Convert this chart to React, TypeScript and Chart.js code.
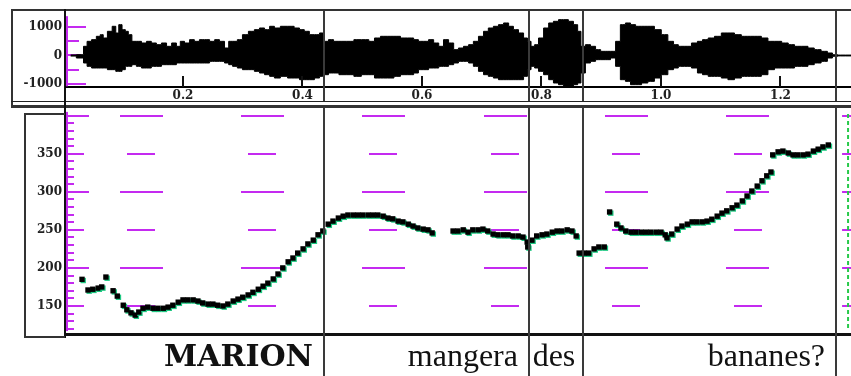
import React, { useEffect, useRef } from 'react';
import { Chart, registerables } from 'chart.js';
Chart.register(...registerables);

// ---------- data ----------
const TIME_TICKS = [0.2, 0.4, 0.6, 0.8, 1.0, 1.2];
const WAVE_Y_TICKS = [-1000, 0, 1000];
const PITCH_Y_TICKS = [150, 200, 250, 300, 350];
const WORD_BOUNDARIES = [0.436, 0.779, 0.87, 1.293];
const WORDS = ['MARION', 'mangera', 'des', 'bananes?'];
const GRID_HZ = [400, 350, 300, 250, 200, 150];
const GRID_DASH_T = [0.1305, 0.333, 0.5355, 0.739, 0.942, 1.145];

const WAVE_T = [0.012, 0.031, 0.036, 0.043, 0.051, 0.059, 0.064, 0.069, 0.078, 0.085, 0.09, 0.095, 0.101, 0.106, 0.111, 0.118, 0.126, 0.135, 0.143, 0.151, 0.16, 0.168, 0.177, 0.185, 0.193, 0.198, 0.207, 0.215, 0.223, 0.232, 0.24, 0.249, 0.257, 0.265, 0.274, 0.279, 0.287, 0.295, 0.304, 0.315, 0.324, 0.332, 0.341, 0.349, 0.357, 0.369, 0.381, 0.391, 0.399, 0.407, 0.416, 0.424, 0.433, 0.439, 0.448, 0.456, 0.466, 0.481, 0.491, 0.506, 0.516, 0.525, 0.536, 0.548, 0.558, 0.57, 0.582, 0.59, 0.598, 0.607, 0.615, 0.624, 0.632, 0.64, 0.649, 0.657, 0.665, 0.674, 0.682, 0.69, 0.699, 0.707, 0.715, 0.724, 0.732, 0.741, 0.749, 0.757, 0.766, 0.774, 0.779, 0.786, 0.791, 0.799, 0.808, 0.816, 0.824, 0.833, 0.841, 0.849, 0.858, 0.863, 0.869, 0.878, 0.886, 0.895, 0.903, 0.911, 0.92, 0.928, 0.936, 0.945, 0.953, 0.962, 0.973, 0.983, 0.995, 1.006, 1.017, 1.025, 1.033, 1.045, 1.057, 1.065, 1.074, 1.084, 1.095, 1.107, 1.117, 1.129, 1.14, 1.15, 1.162, 1.174, 1.184, 1.196, 1.208, 1.218, 1.229, 1.241, 1.251, 1.262, 1.274, 1.283, 1.291, 1.3, 1.318];
const WAVE_MAX = [20, 29, 322, 497, 556, 673, 731, 614, 848, 1024, 790, 1082, 907, 848, 731, 497, 497, 439, 497, 439, 380, 439, 322, 439, 322, 497, 439, 556, 497, 556, 556, 497, 556, 497, 263, 497, 497, 556, 731, 848, 907, 965, 907, 1024, 965, 1024, 1024, 965, 907, 848, 731, 731, 790, 497, 556, 497, 497, 497, 556, 556, 497, 614, 673, 673, 673, 614, 614, 556, 497, 497, 556, 439, 322, 556, 439, 205, 263, 322, 380, 497, 673, 848, 965, 1024, 1082, 1141, 1024, 907, 790, 614, 497, 322, 380, 614, 965, 1141, 1199, 1258, 1258, 1199, 1082, 848, 322, 380, 322, 205, 146, 146, 146, 497, 1082, 1141, 1082, 1024, 1024, 1024, 907, 731, 497, 380, 322, 322, 439, 497, 556, 614, 673, 790, 790, 731, 673, 673, 673, 614, 497, 497, 439, 380, 322, 322, 263, 205, 146, 88, 29, 15, 15];
const WAVE_MIN = [-20, -88, -263, -380, -439, -439, -439, -439, -497, -497, -556, -556, -497, -380, -380, -322, -380, -439, -439, -380, -380, -322, -322, -322, -263, -263, -263, -263, -263, -263, -263, -205, -205, -205, -263, -322, -380, -439, -497, -497, -556, -614, -673, -731, -790, -731, -790, -790, -848, -848, -848, -790, -731, -673, -614, -614, -673, -673, -731, -673, -673, -790, -790, -790, -731, -673, -673, -614, -497, -497, -439, -439, -380, -380, -322, -263, -205, -205, -263, -380, -556, -673, -731, -790, -848, -848, -848, -848, -848, -731, -497, -380, -439, -556, -673, -848, -965, -1024, -1082, -1082, -1024, -965, -614, -263, -205, -146, -146, -146, -88, -380, -848, -907, -1024, -1024, -965, -907, -790, -673, -497, -439, -380, -380, -439, -614, -673, -731, -731, -790, -848, -790, -731, -731, -731, -673, -497, -439, -439, -439, -380, -380, -322, -263, -205, -88, -29, -15, -15];

const PITCH_T = [0.031, 0.041, 0.049, 0.058, 0.064, 0.071, 0.083, 0.09, 0.1, 0.106, 0.113, 0.12, 0.126, 0.133, 0.141, 0.15, 0.158, 0.167, 0.175, 0.183, 0.192, 0.2, 0.208, 0.217, 0.225, 0.233, 0.242, 0.25, 0.258, 0.267, 0.275, 0.284, 0.292, 0.3, 0.309, 0.317, 0.326, 0.334, 0.342, 0.351, 0.359, 0.367, 0.376, 0.384, 0.392, 0.401, 0.409, 0.418, 0.426, 0.434, 0.443, 0.451, 0.46, 0.468, 0.476, 0.485, 0.493, 0.501, 0.51, 0.518, 0.526, 0.535, 0.543, 0.551, 0.56, 0.568, 0.577, 0.585, 0.593, 0.602, 0.61, 0.617, 0.652, 0.66, 0.669, 0.677, 0.685, 0.694, 0.702, 0.71, 0.719, 0.727, 0.736, 0.744, 0.752, 0.761, 0.769, 0.776, 0.777, 0.784, 0.792, 0.801, 0.809, 0.818, 0.826, 0.834, 0.843, 0.851, 0.858, 0.863, 0.871, 0.879, 0.888, 0.896, 0.905, 0.914, 0.926, 0.933, 0.941, 0.95, 0.958, 0.967, 0.975, 0.983, 0.992, 1.0, 1.007, 1.01, 1.018, 1.027, 1.035, 1.044, 1.052, 1.06, 1.069, 1.077, 1.085, 1.094, 1.102, 1.11, 1.119, 1.127, 1.136, 1.144, 1.152, 1.161, 1.169, 1.177, 1.184, 1.187, 1.196, 1.204, 1.213, 1.221, 1.229, 1.238, 1.246, 1.255, 1.263, 1.271, 1.28];
const PITCH_HZ = [185, 171, 172, 173.5, 175, 188, 170, 163, 151, 145, 141, 138, 142, 147, 148.5, 147, 147, 147, 148.5, 151, 155, 158, 158, 158, 156.5, 154, 152.5, 152.5, 151, 150, 152.5, 156.5, 159, 161.5, 164.5, 168, 172, 176, 180, 185.5, 192, 200, 208, 213, 219.5, 225, 231.5, 236.5, 243.5, 248.5, 257.5, 261.5, 265.5, 268, 269.5, 269.5, 269.5, 269.5, 269.5, 269.5, 269.5, 268, 265.5, 264.5, 261.5, 260.5, 257.5, 255, 252.5, 251, 250, 246, 248.5, 248.5, 250, 247, 250, 250, 251, 248.5, 244.5, 243.5, 243.5, 243.5, 242, 242, 240.5, 234, 227.5, 236.5, 242, 243.5, 244.5, 247, 248.5, 248.5, 250, 248.5, 242, 219.5, 219.5, 219.5, 225, 227.5, 227.5, 273.5, 257.5, 252.5, 248.5, 247, 247, 247, 247, 247, 247, 247, 243.5, 239.5, 244.5, 251, 255, 257.5, 260.5, 260.5, 260.5, 261.5, 264, 268, 272, 275, 279, 282.5, 288, 294.5, 301, 307.5, 314.5, 321, 326, 348.5, 352.5, 353.5, 351, 348.5, 348.5, 348.5, 349.5, 353.5, 356, 359, 361.5];

// ---------- scale ranges ----------
const X_MIN = 0.0042;
const X_MAX = 1.318;
const WAVE_MIN_AMP = -1105;
const WAVE_MAX_AMP = 1561;
const HZ_MIN = 114.5;
const HZ_MAX = 410.1;

const MAGENTA = '#c42af0';
const LABEL_FONT = { family: 'DejaVu Serif', weight: 'bold' as const, size: 12 };

const wavePlugin = {
  id: 'waveDecor',
  beforeDatasetsDraw(chart: any) {
    const { ctx, chartArea } = chart;
    const y = chart.scales.y;
    ctx.save();
    ctx.fillStyle = MAGENTA;
    const top = y.getPixelForValue(1380);
    const bot = y.getPixelForValue(-1080);
    ctx.fillRect(chartArea.left, top, 2, bot - top);
    [1000, 500, 0, -500, -1000].forEach((v) => {
      const len = Math.abs(v) === 1000 ? 20 : v === 0 ? 15 : 13;
      ctx.fillRect(chartArea.left, Math.round(y.getPixelForValue(v)) - 1, len, 2);
    });
    ctx.restore();
  },
  afterDatasetsDraw(chart: any) {
    const { ctx, chartArea } = chart;
    const x = chart.scales.x;
    ctx.save();
    ctx.fillStyle = '#111';
    TIME_TICKS.forEach((t) => {
      const px = Math.round(x.getPixelForValue(t));
      ctx.fillRect(px - 1, chartArea.bottom - 11, 2, 11);
    });
    ctx.strokeStyle = '#3a3a3a';
    ctx.lineWidth = 2;
    WORD_BOUNDARIES.forEach((t) => {
      const px = Math.round(x.getPixelForValue(t));
      ctx.beginPath();
      ctx.moveTo(px, chartArea.top);
      ctx.lineTo(px, chart.height);
      ctx.stroke();
    });
    ctx.restore();
  },
};

const pitchPlugin = {
  id: 'pitchDecor',
  beforeDatasetsDraw(chart: any) {
    const { ctx, chartArea } = chart;
    const x = chart.scales.x;
    const y = chart.scales.y;
    ctx.save();
    ctx.fillStyle = MAGENTA;
    const top = y.getPixelForValue(405);
    const bot = y.getPixelForValue(117);
    ctx.fillRect(chartArea.left, top, 2, bot - top);
    for (let hz = 120; hz <= 400; hz += 10) {
      const len = hz % 100 === 0 ? 23 : hz % 50 === 0 ? 18 : 8;
      ctx.fillRect(chartArea.left, Math.round(y.getPixelForValue(hz)) - 1, len, 2);
    }
    GRID_HZ.forEach((hz) => {
      const long = hz % 100 === 0;
      const half = long ? 21.5 : 14;
      const py = Math.round(y.getPixelForValue(hz)) - 1;
      GRID_DASH_T.forEach((t) => {
        const cx = x.getPixelForValue(t);
        ctx.fillRect(Math.round(cx - half), py, Math.round(half * 2), 2);
      });
      const rx = x.getPixelForValue(WORD_BOUNDARIES[3]);
      ctx.fillRect(rx + 6, py, 9, 2);
    });
    const gx = x.getPixelForValue(WORD_BOUNDARIES[3]) + 12;
    ctx.strokeStyle = '#27c94a';
    ctx.lineWidth = 2;
    ctx.setLineDash([4, 3]);
    ctx.beginPath();
    ctx.moveTo(gx, chartArea.top + 6);
    ctx.lineTo(gx, chartArea.bottom - 2);
    ctx.stroke();
    ctx.restore();
  },
  beforeDatasetDraw(chart: any) {
    const ctx = chart.ctx;
    ctx.save();
    ctx.shadowColor = 'rgba(30,200,130,1)';
    ctx.shadowOffsetX = 1.2;
    ctx.shadowOffsetY = 1.2;
    ctx.shadowBlur = 0;
  },
  afterDatasetDraw(chart: any) {
    chart.ctx.restore();
  },
  afterDatasetsDraw(chart: any) {
    const { ctx, chartArea } = chart;
    const x = chart.scales.x;
    ctx.save();
    ctx.strokeStyle = '#3a3a3a';
    ctx.lineWidth = 2;
    WORD_BOUNDARIES.forEach((t) => {
      const px = Math.round(x.getPixelForValue(t));
      ctx.beginPath();
      ctx.moveTo(px, chartArea.top);
      ctx.lineTo(px, chart.height);
      ctx.stroke();
    });
    ctx.fillStyle = '#111';
    ctx.textAlign = 'right';
    ctx.textBaseline = 'alphabetic';
    WORDS.forEach((w, i) => {
      ctx.font = i === 0 ? 'bold 30px "DejaVu Serif"' : '32px "Liberation Serif"';
      const pad = i === 2 ? 8 : 11;
      const px = x.getPixelForValue(WORD_BOUNDARIES[i]) - pad;
      ctx.fillText(w, px, chartArea.bottom + 33);
    });
    ctx.restore();
  },
};

function waveConfig(): any {
  return {
    type: 'line',
    data: {
      datasets: [
        {
          data: WAVE_T.map((t, i) => ({ x: t, y: WAVE_MAX[i] })),
          borderColor: '#000',
          backgroundColor: '#000',
          borderWidth: 1,
          pointRadius: 0,
          stepped: 'middle',
          fill: '+1',
        },
        {
          data: WAVE_T.map((t, i) => ({ x: t, y: WAVE_MIN[i] })),
          borderColor: '#000',
          backgroundColor: '#000',
          borderWidth: 1,
          pointRadius: 0,
          stepped: 'middle',
          fill: false,
        },
      ],
    },
    options: {
      animation: false,
      responsive: false,
      devicePixelRatio: 1,
      layout: { padding: 0, autoPadding: false },
      plugins: { legend: { display: false }, tooltip: { enabled: false } },
      scales: {
        x: {
          type: 'linear',
          position: 'bottom',
          min: X_MIN,
          max: X_MAX,
          grid: { display: false, drawTicks: false },
          border: { display: true, color: '#000', width: 2 },
          ticks: {
            padding: 2,
            color: '#222',
            font: LABEL_FONT,
            maxRotation: 0,
            autoSkip: false,
            callback: (v: any) => Number(v).toFixed(1),
          },
          afterBuildTicks: (s: any) => {
            s.ticks = TIME_TICKS.map((value) => ({ value }));
          },
          afterFit: (s: any) => {
            s.height = 14;
            s.paddingLeft = 0;
            s.paddingRight = 0;
          },
        },
        y: {
          type: 'linear',
          position: 'left',
          min: WAVE_MIN_AMP,
          max: WAVE_MAX_AMP,
          grid: { display: false, drawTicks: false },
          border: { display: false },
          ticks: {
            padding: 4,
            color: '#222',
            font: LABEL_FONT,
            autoSkip: false,
            callback: (v: any) => String(v),
          },
          afterBuildTicks: (s: any) => {
            s.ticks = WAVE_Y_TICKS.map((value) => ({ value }));
          },
          afterFit: (s: any) => {
            s.width = 53;
            s.paddingTop = 0;
            s.paddingBottom = 0;
          },
        },
      },
    },
    plugins: [wavePlugin],
  };
}

function pitchConfig(): any {
  return {
    type: 'scatter',
    data: {
      datasets: [
        {
          data: PITCH_T.map((t, i) => ({ x: t, y: PITCH_HZ[i] })),
          pointStyle: 'rect',
          pointRadius: 3.8,
          pointHoverRadius: 3.8,
          backgroundColor: '#000',
          borderWidth: 0,
          showLine: false,
        },
      ],
    },
    options: {
      animation: false,
      responsive: false,
      devicePixelRatio: 1,
      layout: { padding: { left: 0, right: 0, top: 0, bottom: 43 }, autoPadding: false },
      plugins: { legend: { display: false }, tooltip: { enabled: false } },
      scales: {
        x: { type: 'linear', display: false, min: X_MIN, max: X_MAX },
        y: {
          type: 'linear',
          position: 'left',
          min: HZ_MIN,
          max: HZ_MAX,
          grid: { display: false, drawTicks: false },
          border: { display: false },
          ticks: {
            padding: 4,
            color: '#222',
            font: LABEL_FONT,
            autoSkip: false,
            callback: (v: any) => String(v),
          },
          afterBuildTicks: (s: any) => {
            s.ticks = PITCH_Y_TICKS.map((value) => ({ value }));
          },
          afterFit: (s: any) => {
            s.width = 40;
            s.paddingTop = 0;
            s.paddingBottom = 0;
          },
        },
      },
    },
    plugins: [pitchPlugin],
  };
}

const abs = (l: number, t: number, w: number, h: number, bg: string): React.CSSProperties => ({
  position: 'absolute',
  left: l,
  top: t,
  width: w,
  height: h,
  background: bg,
});

export default function App() {
  const waveRef = useRef<HTMLCanvasElement>(null);
  const pitchRef = useRef<HTMLCanvasElement>(null);

  useEffect(() => {
    const w = new Chart(waveRef.current as HTMLCanvasElement, waveConfig());
    const p = new Chart(pitchRef.current as HTMLCanvasElement, pitchConfig());
    return () => {
      w.destroy();
      p.destroy();
    };
  }, []);

  return (
    <div style={{ position: 'absolute', left: 0, top: 0, width: 851, height: 376, background: '#fff', overflow: 'hidden' }}>
      <div style={abs(11, 9, 840, 2, '#333')} />
      <div style={abs(11, 9, 2, 99, '#333')} />
      <div style={abs(11, 101, 840, 1, '#222')} />
      <div style={abs(11, 105, 840, 3, '#333')} />
      <div style={abs(64, 9, 2, 329, '#111')} />
      <div style={abs(24, 113, 2, 225, '#333')} />
      <div style={abs(24, 113, 41, 2, '#333')} />
      <div style={abs(24, 336, 41, 2, '#333')} />
      <div style={abs(64, 333, 787, 3, '#111')} />
      <canvas
        ref={waveRef}
        width={838}
        height={90}
        style={{ position: 'absolute', left: 13, top: 11, width: 838, height: 90 }}
      />
      <canvas
        ref={pitchRef}
        width={825}
        height={268}
        style={{ position: 'absolute', left: 26, top: 108, width: 825, height: 268 }}
      />
    </div>
  );
}
